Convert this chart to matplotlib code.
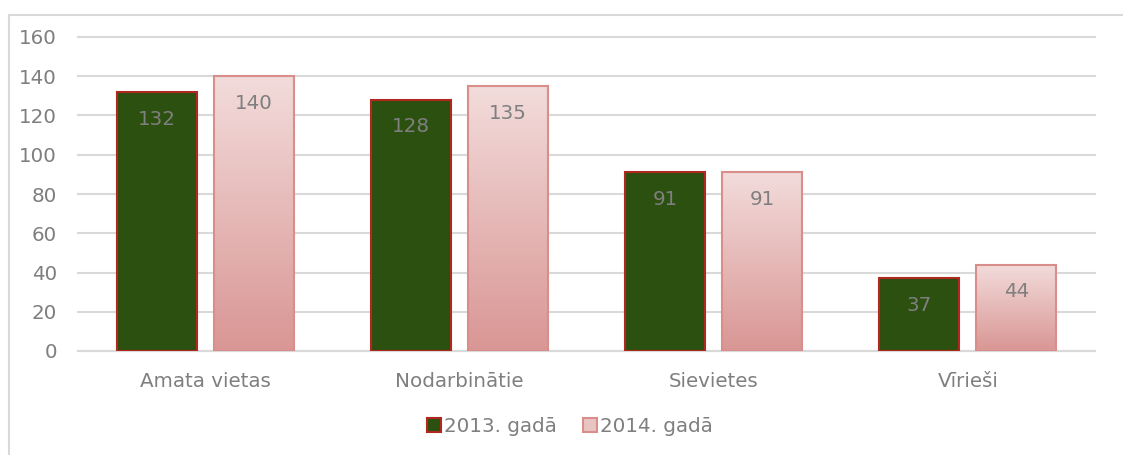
import matplotlib
matplotlib.use("Agg")
import matplotlib.pyplot as plt
import numpy as np
from matplotlib.patches import Rectangle, Patch
from matplotlib.lines import Line2D
from matplotlib.colors import LinearSegmentedColormap

categories = ["Amata vietas", "Nodarbinātie", "Sievietes", "Vīrieši"]
series_names = ["2013. gadā", "2014. gadā"]
values_2013 = [132, 128, 91, 37]
values_2014 = [140, 135, 91, 44]
yticks = [0, 20, 40, 60, 80, 100, 120, 140, 160]

plt.rcParams['font.family'] = ['DejaVu Sans']
TXT = '#7F7F7F'
FS = 14.3

fig = plt.figure(figsize=(11.23, 4.55), dpi=100)
# outer border (top and left edges visible)
bx0, by0 = 8.5 / 1123, 1 - 14.5 / 455
fig.lines.append(Line2D([bx0, 1.0], [by0, by0], transform=fig.transFigure,
                        color='#D9D9D9', linewidth=1.5))
fig.lines.append(Line2D([bx0, bx0], [0, by0], transform=fig.transFigure,
                        color='#D9D9D9', linewidth=1.5))

ax = fig.add_axes([78/1123, 1 - 351/455, (1095-78)/1123, (351-37)/455])

x = np.arange(len(categories))
w = 0.315
off = (80 + 17) / 254 / 2
green_bars = ax.bar(x - off, values_2013, w, color='#2C5010', edgecolor='#B0281E',
                    linewidth=1.5, zorder=3)
pink_bars = ax.bar(x + off, values_2014, w, color='none', edgecolor='#D98E8C',
                   linewidth=1.5, zorder=4)

cmap = LinearSegmentedColormap.from_list('pk', ['#D99694', '#F2DCDB'])
grad = np.linspace(0, 1, 256).reshape(-1, 1)
for b in pink_bars:
    bx, by = b.get_x(), b.get_y()
    bw, bh = b.get_width(), b.get_height()
    ax.imshow(grad, cmap=cmap, origin='lower', aspect='auto',
              extent=[bx, bx + bw, by, by + bh], zorder=3)

for bars, vals in ((green_bars, values_2013), (pink_bars, values_2014)):
    for b, v in zip(bars, vals):
        ax.annotate(str(v), (b.get_x() + b.get_width() / 2, v), xytext=(0, -19.5),
                    textcoords='offset points', ha='center', va='center',
                    color=TXT, fontsize=FS, zorder=5)

ax.set_xlim(-0.5, len(categories) - 0.5)
ax.set_ylim(0, 160)
ax.set_yticks(yticks)
ax.set_xticks(x)
ax.set_xticklabels(categories)
ax.tick_params(axis='both', length=0, labelsize=FS, colors=TXT)
ax.tick_params(axis='y', pad=15)
ax.tick_params(axis='x', pad=15)
ax.yaxis.grid(True, color='#D9D9D9', linewidth=1.5, zorder=0)
for gl in ax.get_ygridlines():
    gl.set_clip_on(False)
ax.set_axisbelow(True)
for s in ['top', 'right', 'left']:
    ax.spines[s].set_visible(False)
ax.spines['bottom'].set_color('#D9D9D9')
ax.spines['bottom'].set_linewidth(1.5)

handles = [Patch(facecolor='#2C5010', edgecolor='#B0281E', linewidth=1.5),
           Patch(facecolor='#E8C4C3', edgecolor='#D98E8C', linewidth=1.5)]
leg = fig.legend(handles, series_names, loc='center', bbox_to_anchor=(570/1123, 1 - 426/455),
                 ncol=2, frameon=False, fontsize=FS, handlelength=0.7, handleheight=0.7,
                 handletextpad=0.15, columnspacing=1.3)
for t in leg.get_texts():
    t.set_color(TXT)

fig.savefig('out.png', dpi=100)
